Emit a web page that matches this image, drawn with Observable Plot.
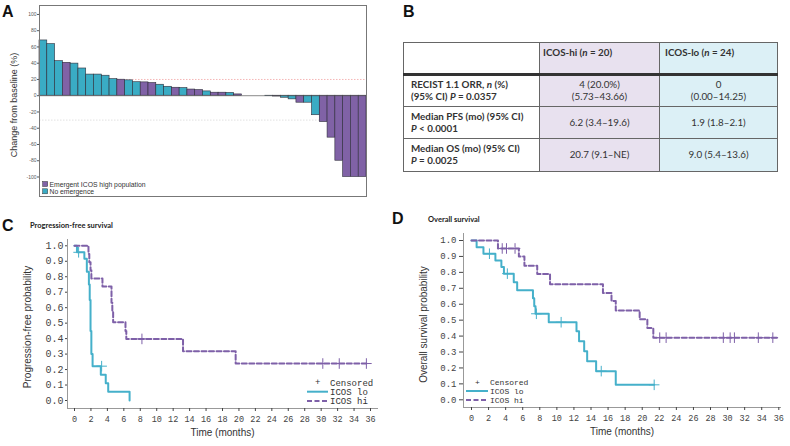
<!DOCTYPE html>
<html><head><meta charset="utf-8">
<script src="https://cdn.jsdelivr.net/npm/d3@7"></script>
<script src="https://cdn.jsdelivr.net/npm/@observablehq/plot@0.6"></script>
<style>
body{margin:0;background:#fff;}
#root{position:relative;width:790px;height:446px;overflow:hidden;background:#fff;}
#root > svg, #root > div.p{position:absolute;}
#overlay{position:absolute;left:0;top:0;pointer-events:none;}
#tbl{position:absolute;left:403px;top:42px;width:374px;border-collapse:collapse;table-layout:fixed;font-family:Lato,"Open Sans",sans-serif;font-size:9.8px;color:#333;}
#tbl td{border:1px solid #666;padding:0;box-sizing:border-box;line-height:11.7px;}
#tbl td.c1{text-align:left;padding-left:7px;font-weight:bold;background:#fff;}
#tbl td.c2{text-align:center;background:#e8e1ef;}
#tbl td.c3{text-align:center;background:#dcf0f6;}
#tbl tr.hd td{height:32px;vertical-align:top;padding-top:4px;font-weight:bold;text-align:left;border-bottom:3px solid #333;}
#tbl tr.hd td.c2{padding-left:3px;}
#tbl tr.hd td.c3{padding-left:5px;}
#tbl tr.rw td{height:32px;vertical-align:middle;}
#tbl tr.rw:last-child td{height:33px;}
</style>
</head><body>
<div id="root"></div>
<script>
// ---------- Panel A data (waterfall) ----------
const wfChange = [68, 63.5, 42.5, 40.5, 39.5, 33.5, 26, 26, 24.6, 20.4, 19.7, 18.9, 16.6, 16.4, 15.6, 13.5, 11, 9.8, 9.4, 7.6, 7, 5.3, 3.7, 3.7, 3.4, 1.6, 0, 0, 0, -0.5, -1, -2.5, -4.5, -8.6, -8.6, -24, -32.4, -51.6, -80, -100, -100, -100];
const wfGroup = ["N","N","N","E","N","N","N","N","N","N","E","N","N","E","E","N","N","E","N","E","E","N","E","E","N","E","N","N","N","N","E","N","N","E","N","N","E","E","E","E","E","E"];
const groupLabels = ["Emergent ICOS high population", "No emergence"];
const yTicksA = [-100, -80, -60, -40, -20, 0, 20, 40, 60, 80, 100];

// ---------- Panel B table ----------
const tableHeaders = ["", "ICOS-hi (<i>n</i> = 20)", "ICOS-lo (<i>n</i> = 24)"];
const tableRowLabels = [["RECIST 1.1 ORR, <i>n</i> (%)", "(95% CI) <i>P</i> = 0.0357"], ["Median PFS (mo) (95% CI)", "<i>P</i> &lt; 0.0001"], ["Median OS (mo) (95% CI)", "<i>P</i> = 0.0025"]];
const tableHi = [["4 (20.0%)", "(5.73–43.66)"], ["6.2 (3.4–19.6)"], ["20.7 (9.1–NE)"]];
const tableLo = [["0", "(0.00–14.25)"], ["1.9 (1.8–2.1)"], ["9.0 (5.4–13.6)"]];

// ---------- Panel C data (PFS) ----------
const pfsLoT = [0, 0.3, 1.2, 1.5, 1.75, 1.85, 1.95, 2.05, 2.2, 3.2, 3.8, 4.1, 6.7];
const pfsLoS = [1, 0.958, 0.917, 0.833, 0.75, 0.65, 0.45, 0.30, 0.222, 0.167, 0.111, 0.056, 0];
const pfsHiT = [0, 1.7, 1.8, 1.95, 2.05, 3.4, 4.5, 4.6, 4.7, 6.2, 6.3, 13.2, 19.6, 35.5];
const pfsHiS = [1, 0.947, 0.894, 0.842, 0.789, 0.737, 0.632, 0.579, 0.506, 0.45, 0.398, 0.318, 0.239, 0.239];
const pfsLoCensT = [0.5, 3.3];
const pfsLoCensS = [0.958, 0.222];
const pfsHiCensT = [8.2, 30.2, 32.2, 35.5];
const pfsHiCensS = [0.398, 0.239, 0.239, 0.239];

// ---------- Panel D data (OS) ----------
const osLoT = [0, 0.6, 1.4, 2.8, 3.5, 3.8, 4.95, 5.35, 7.2, 7.35, 7.5, 9.05, 12.3, 12.6, 13.2, 13.55, 14.6, 16.9, 21.4];
const osLoS = [1, 0.958, 0.917, 0.875, 0.833, 0.792, 0.738, 0.688, 0.638, 0.588, 0.54, 0.487, 0.43, 0.368, 0.305, 0.242, 0.18, 0.094, 0.094];
const osHiT = [0, 3.1, 5.55, 6.2, 7.7, 9.2, 15.4, 16.4, 16.9, 19.7, 20.6, 21.3, 35.8];
const osHiS = [1, 0.95, 0.9, 0.842, 0.79, 0.725, 0.67, 0.62, 0.56, 0.505, 0.45, 0.39, 0.39];
const osLoCensT = [2.1, 4.2, 7.6, 10.5, 15.2, 21.4];
const osLoCensS = [0.917, 0.792, 0.54, 0.487, 0.18, 0.094];
const osHiCensT = [3.6, 4.1, 5.1, 22.05, 22.8, 29.5, 30.3, 30.8, 33.6, 35.3];
const osHiCensS = [0.95, 0.95, 0.95, 0.39, 0.39, 0.39, 0.39, 0.39, 0.39, 0.39];

const monthTicks = [0,2,4,6,8,10,12,14,16,18,20,22,24,26,28,30,32,34,36];
const probTicks = [0,0.1,0.2,0.3,0.4,0.5,0.6,0.7,0.8,0.9,1.0];

// ---------- styles ----------
const teal = "#3aacc4", purple = "#8062a6";
const lineTeal = "#45b0ca", linePurple = "#7e60a8";
const mono = "'Liberation Mono', 'DejaVu Sans Mono', monospace";
const sans = "'Liberation Sans', Arial, sans-serif";

const root = document.getElementById("root");
const zip = (T, S) => T.map((t, i) => ({t, s: S[i]}));

// ---------- Panel A ----------
const wf = wfChange.map((v, i) => ({i: i + 1, v, g: wfGroup[i] === "E" ? groupLabels[0] : groupLabels[1]}));
const plotA = Plot.plot({
  width: 390, height: 205,
  marginLeft: 39, marginRight: 24, marginTop: 5, marginBottom: 9,
  style: {background: "transparent", fontFamily: sans},
  x: {type: "band", domain: wf.map(d => d.i), padding: 0, axis: null},
  y: {domain: [-124, 111]},
  color: {domain: groupLabels, range: [purple, teal]},
  marks: [
    Plot.ruleY([20], {stroke: "#f2a3a3", strokeDasharray: "1.5,1.5", strokeWidth: 0.8}),
    Plot.ruleY([-30], {stroke: "#d9d9d9", strokeDasharray: "1.5,1.5", strokeWidth: 0.8}),
    Plot.barY(wf, {x: "i", y: "v", fill: "g", stroke: "#2e2e3a", strokeWidth: 0.6}),
    Plot.ruleY([0], {stroke: "#555", strokeWidth: 0.7}),
    Plot.frame({stroke: "#777"}),
    Plot.axisY({ticks: yTicksA, tickSize: 2, tickPadding: 1, fontSize: 5, color: "#555", label: null, tickFormat: d => String(d)}),
    Plot.text(["Change from baseline (%)"], {frameAnchor: "left", textAnchor: "middle", rotate: -90, dx: -25, dy: 4, fontSize: 9, fill: "#333", fontFamily: sans})
  ]
});
plotA.style.left = "0px"; plotA.style.top = "0px";
root.appendChild(plotA);

// ---------- Panel B ----------
const tbl = document.createElement("table");
tbl.id = "tbl";
let html = '<colgroup><col style="width:136px"><col style="width:120px"><col style="width:118px"></colgroup>';
html += '<tr class="hd">' + tableHeaders.map((h, j) => `<td class="c${j+1}">${h}</td>`).join("") + '</tr>';
tableRowLabels.forEach((lab, r) => {
  html += '<tr class="rw">' +
    `<td class="c1">${lab.join("<br>")}</td>` +
    `<td class="c2">${tableHi[r].join("<br>")}</td>` +
    `<td class="c3">${tableLo[r].join("<br>")}</td></tr>`;
});
tbl.innerHTML = html;
root.appendChild(tbl);

// ---------- KM panel helper ----------
function kmPlot(opts) {
  return Plot.plot({
    width: opts.width, height: 226,
    marginLeft: opts.ml, marginRight: opts.mr, marginTop: opts.mt, marginBottom: opts.mb,
    style: {background: "transparent", fontFamily: sans, overflow: "visible"},
    x: {domain: [0, 36], range: opts.xr},
    y: {domain: [0, 1], range: opts.yr},
    marks: [
      Plot.frame({anchor: "left", stroke: "#999"}),
      Plot.frame({anchor: "bottom", stroke: "#999"}),
      Plot.axisY({ticks: probTicks, tickFormat: d => d.toFixed(1), tickSize: opts.yts, tickPadding: opts.ytp, fontFamily: mono, fontSize: opts.yfs, color: "#444", label: null}),
      Plot.axisX({ticks: monthTicks, tickSize: 3, tickPadding: 4, fontFamily: mono, fontSize: 8.5, color: "#444", label: null}),
      Plot.line(opts.lo, {x: "t", y: "s", curve: "step-after", stroke: lineTeal, strokeWidth: 2}),
      Plot.line(opts.hi, {x: "t", y: "s", curve: "step-after", stroke: linePurple, strokeWidth: 2, strokeDasharray: "5,2.5"}),
      Plot.dot(opts.loC, {x: "t", y: "s", symbol: "plus", r: 3.5, stroke: lineTeal, strokeWidth: 1}),
      Plot.dot(opts.hiC, {x: "t", y: "s", symbol: "plus", r: 3.5, stroke: linePurple, strokeWidth: 1}),
      Plot.text([opts.ylabel], {frameAnchor: "left", textAnchor: "middle", rotate: -90, dx: -40, dy: opts.ydy, fontSize: 10, fill: "#333", fontFamily: sans}),
      Plot.text(["Time (months)"], {frameAnchor: "bottom", textAnchor: "middle", dy: 27, fontSize: 10, fill: "#333", fontFamily: sans})
    ]
  });
}

const plotC = kmPlot({
  width: 390, ml: 67, mr: 13, mt: 19, mb: 38, xr: [74, 370], yr: [180, 25.3],
  yts: 2, ytp: 2, yfs: 10, ydy: 3,
  lo: zip(pfsLoT, pfsLoS), hi: zip(pfsHiT, pfsHiS),
  loC: zip(pfsLoCensT, pfsLoCensS), hiC: zip(pfsHiCensT, pfsHiCensS),
  ylabel: "Progression-free probability"
});
plotC.style.left = "0px"; plotC.style.top = "220px";
root.appendChild(plotC);

const plotD = kmPlot({
  width: 400, ml: 73, mr: 10, mt: 13, mb: 39, xr: [81, 388.3], yr: [179.3, 20],
  yts: 4, ytp: 3, yfs: 9, ydy: 4,
  lo: zip(osLoT, osLoS), hi: zip(osHiT, osHiS),
  loC: zip(osLoCensT, osLoCensS), hiC: zip(osHiCensT, osHiCensS),
  ylabel: "Overall survival probability"
});
plotD.style.left = "390px"; plotD.style.top = "220px";
root.appendChild(plotD);

// ---------- overlay: panel letters, titles, legends ----------
const ov = document.createElementNS("http://www.w3.org/2000/svg", "svg");
ov.setAttribute("id", "overlay");
ov.setAttribute("width", 790); ov.setAttribute("height", 446);
ov.innerHTML = `
<g font-family="${sans}" font-weight="bold" font-size="16" fill="#111">
  <text x="2" y="16.5">A</text>
  <text x="403" y="17">B</text>
  <text x="2" y="230.5">C</text>
  <text x="392" y="224">D</text>
</g>
<g font-family="Lato, 'Open Sans', sans-serif" font-weight="bold" font-size="7.5" fill="#222">
  <text x="30" y="228">Progression-free survival</text>
  <text x="428" y="222">Overall survival</text>
</g>
<g font-family="${sans}" font-size="6.8" fill="#333">
  <rect x="42.7" y="181.5" width="5" height="5" fill="${purple}" stroke="#333" stroke-width="0.5"></rect>
  <text x="49.5" y="186.5">${groupLabels[0]}</text>
  <rect x="42.7" y="188.8" width="5" height="5" fill="${teal}" stroke="#333" stroke-width="0.5"></rect>
  <text x="49.5" y="193.8">${groupLabels[1]}</text>
</g>
<g font-family="${mono}" font-size="9" fill="#333">
  <text x="317.7" y="385.3" text-anchor="middle">+</text>
  <text x="330" y="385.5">Censored</text>
  <line x1="307" x2="328" y1="391.7" y2="391.7" stroke="${lineTeal}" stroke-width="2"></line>
  <text x="330" y="394.8">ICOS lo</text>
  <line x1="307" x2="328" y1="401" y2="401" stroke="${linePurple}" stroke-width="2" stroke-dasharray="5,2.5"></line>
  <text x="330" y="404.1">ICOS hi</text>
</g>
<g font-family="${mono}" font-size="8" fill="#333">
  <text x="477.3" y="384.6" text-anchor="middle">+</text>
  <text x="490" y="384.6">Censored</text>
  <line x1="466" x2="488" y1="391" y2="391" stroke="${lineTeal}" stroke-width="2"></line>
  <text x="490" y="393.8">ICOS lo</text>
  <line x1="466" x2="488" y1="400" y2="400" stroke="${linePurple}" stroke-width="2" stroke-dasharray="5,2.5"></line>
  <text x="490" y="402.8">ICOS hi</text>
</g>`;
root.appendChild(ov);
</script>
</body></html>
